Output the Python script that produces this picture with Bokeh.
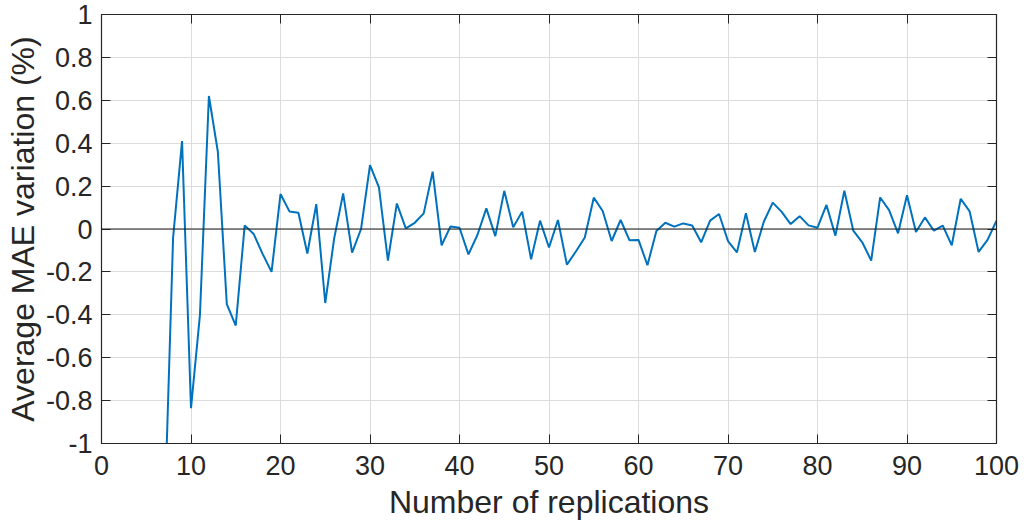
from bokeh.plotting import figure
from bokeh.models import LinearAxis, FixedTicker, Span, CustomJSTickFormatter, Range1d
from bokeh.embed import file_html
from bokeh.resources import INLINE

# ---- data ----
replications = list(range(7, 101))
mae_variation = [
    -1.40, -0.04, 0.41, -0.835, -0.40, 0.62, 0.36, -0.35, -0.45, 0.017,
    -0.023, -0.116, -0.20, 0.163, 0.082, 0.076, -0.114, 0.116, -0.345, -0.043,
    0.166, -0.11, 0.0, 0.298, 0.194, -0.147, 0.119, 0.003, 0.029, 0.073,
    0.267, -0.076, 0.012, 0.006, -0.118, -0.028, 0.096, -0.033, 0.178, 0.008,
    0.081, -0.141, 0.039, -0.086, 0.042, -0.166, -0.105, -0.04, 0.146, 0.084,
    -0.056, 0.042, -0.053, -0.051, -0.169, -0.009, 0.029, 0.011, 0.026, 0.016,
    -0.062, 0.039, 0.07, -0.056, -0.109, 0.073, -0.107, 0.034, 0.123, 0.08,
    0.023, 0.06, 0.017, 0.006, 0.112, -0.031, 0.178, -0.008, -0.062, -0.147,
    0.147, 0.088, -0.02, 0.157, -0.014, 0.054, -0.008, 0.016, -0.076, 0.141,
    0.082, -0.107, -0.051, 0.039,
]
x_ticks = [0, 10, 20, 30, 40, 50, 60, 70, 80, 90, 100]
y_ticks = [-1, -0.8, -0.6, -0.4, -0.2, 0, 0.2, 0.4, 0.6, 0.8, 1]
x_label = "Number of replications"
y_label = "Average MAE variation (%)"

FONT = "Liberation Sans"
DARK = "#262626"

p = figure(width=1026, height=527, output_backend="svg", toolbar_location=None,
           x_range=Range1d(0, 100), y_range=Range1d(-1, 1),
           min_border_left=101, min_border_right=30, min_border_top=14, min_border_bottom=84)
p.background_fill_color = "white"
p.border_fill_color = "white"
p.outline_line_color = DARK
p.outline_line_width = 1.2

fmt = CustomJSTickFormatter(code="return String(Number(tick.toFixed(1)));")

for ax in (p.xaxis[0], p.yaxis[0]):
    ax.major_tick_in = 9
    ax.major_tick_out = 0
    ax.minor_tick_line_color = None
    ax.axis_line_color = DARK
    ax.major_tick_line_color = DARK
    ax.major_label_text_font = FONT
    ax.major_label_text_font_size = "27px"
    ax.major_label_text_color = DARK
    ax.axis_label_text_font = FONT
    ax.axis_label_text_font_size = "32px"
    ax.axis_label_text_font_style = "normal"
    ax.axis_label_text_color = DARK

p.xaxis.ticker = FixedTicker(ticks=x_ticks)
p.yaxis.ticker = FixedTicker(ticks=y_ticks)
p.yaxis.formatter = fmt
p.xaxis.axis_label = x_label
p.yaxis.axis_label = y_label
p.xaxis.major_label_standoff = 12
p.yaxis.major_label_standoff = 9
p.xaxis.axis_label_standoff = 6
p.yaxis.axis_label_standoff = 2

# top and right tick-only axes (box style), labels not drawn
for loc, ticks in (("above", x_ticks), ("right", y_ticks)):
    ax = LinearAxis(ticker=FixedTicker(ticks=ticks), major_label_text_font_size="0px",
                    major_label_text_color=None, major_tick_in=9, major_tick_out=0,
                    minor_tick_line_color=None, axis_line_color=DARK,
                    major_tick_line_color=DARK, major_label_standoff=0)
    p.add_layout(ax, loc)

p.xgrid.ticker = FixedTicker(ticks=x_ticks)
p.ygrid.ticker = FixedTicker(ticks=y_ticks)
p.grid.grid_line_color = "#dcdcdc"
p.grid.grid_line_width = 1

p.add_layout(Span(location=0, dimension="width", line_color="#1a1a1a", line_width=1.2))

p.line(replications, mae_variation, line_color="#0072BD", line_width=2)

open("out.html", "w").write(file_html(p, INLINE))
